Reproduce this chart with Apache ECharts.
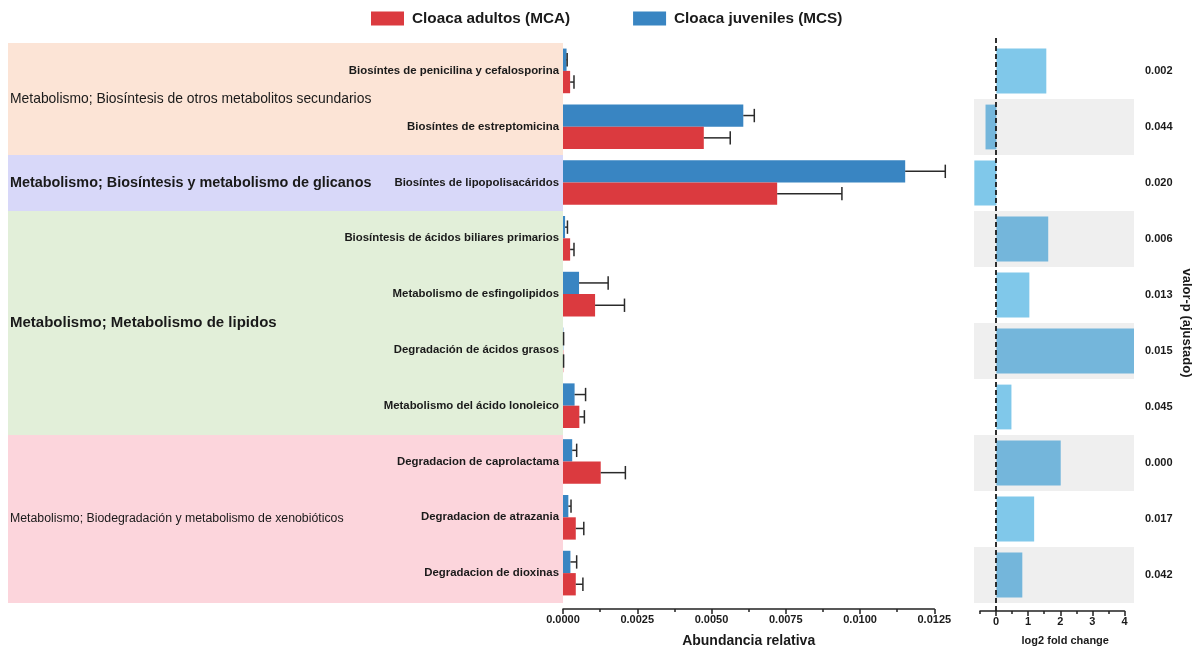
<!DOCTYPE html>
<html>
<head>
<meta charset="utf-8">
<script src="https://cdn.jsdelivr.net/npm/echarts@6/dist/echarts.min.js"></script>
<style>
  html, body { margin: 0; padding: 0; background: #ffffff; }
  #chart { width: 1197px; height: 653px; }
</style>
</head>
<body>
<div id="chart"></div>
<script>
// KEGG pathways (rows, top to bottom)
const categories = [
  'Biosíntes de penicilina y cefalosporina',
  'Biosíntes de estreptomicina',
  'Biosíntes de lipopolisacáridos',
  'Biosíntesis de ácidos biliares primarios',
  'Metabolismo de esfingolipidos',
  'Degradación de ácidos grasos',
  'Metabolismo del ácido lonoleico',
  'Degradacion de caprolactama',
  'Degradacion de atrazania',
  'Degradacion de dioxinas'
];

// Pathway groups and the number of rows each one covers
const groupNames = [
  'Metabolismo; Biosíntesis de otros metabolitos secundarios',
  'Metabolismo; Biosíntesis y metabolismo de glicanos',
  'Metabolismo; Metabolismo de lipidos',
  'Metabolismo; Biodegradación y metabolismo de xenobióticos'
];
const groupRows = [2, 1, 4, 3];

const adultosName = 'Cloaca adultos (MCA)';
const juvenilesName = 'Cloaca juveniles (MCS)';

// Mean relative abundance and error (upper bar)
const adultos =      [0.00024, 0.00474, 0.00721, 0.00024, 0.00108, 0.00001, 0.00055, 0.00127, 0.00043, 0.00043];
const adultosErr =   [0.00013, 0.00089, 0.00218, 0.00013, 0.00099, 0.00001, 0.00017, 0.00083, 0.00027, 0.00024];
const juveniles =    [0.00012, 0.00607, 0.01152, 0.00007, 0.00054, 0.00001, 0.00039, 0.00031, 0.00018, 0.00025];
const juvenilesErr = [0.00002, 0.00037, 0.00135, 0.00008, 0.00098, 0.00001, 0.00037, 0.00015, 0.00009, 0.00021];

// log2 fold change and adjusted p-values
const log2fc = [1.56, -0.34, -0.69, 1.62, 1.03, 4.3, 0.47, 2.01, 1.18, 0.81];
const pValues = ['0.002', '0.044', '0.020', '0.006', '0.013', '0.015', '0.045', '0.000', '0.017', '0.042'];

// ---- styling ----
const RED = '#db3a3f';
const BLUE = '#3985c2';
const FC_LIGHT = '#80c8ea';
const FC_DARK = '#74b6db';
const groupColors = ['#fce4d6', '#d8d8f9', '#e2efd9', '#fcd5dc'];
const SANS = 'Liberation Sans, Arial, sans-serif';
const groupLabelStyles = [
  { fontSize: 13.9, fontWeight: 'normal' },
  { fontSize: 14.4, fontWeight: 'bold' },
  { fontSize: 15, fontWeight: 'bold' },
  { fontSize: 12.3, fontWeight: 'normal' }
];
const TXT = '#1a1a1a';

const BAR_FRACTION = 0.8; // share of a row taken by the bar pair

// group band areas (row units)
let acc = 0;
const groupAreas = groupNames.map((name, i) => {
  const start = acc;
  acc += groupRows[i];
  return [
    {
      name: name,
      yAxis: start,
      itemStyle: { color: groupColors[i] },
      label: Object.assign({ show: true, position: 'insideLeft', distance: 2, color: TXT, fontFamily: SANS }, groupLabelStyles[i])
    },
    { yAxis: acc }
  ];
});

// error bar data: [value, rowIndex, err]
function errData(vals, errs) {
  return vals.map((v, i) => [v, i, errs[i]]);
}

// side: -1 => upper bar of the pair, +1 => lower bar
function errRenderer(side) {
  return function (params, api) {
    const v = api.value(0), idx = api.value(1), e = api.value(2);
    const p0 = api.coord([v, idx]);
    const p1 = api.coord([v + e, idx]);
    const band = api.size([0, 1])[1];
    const bw = band * BAR_FRACTION / 2;
    const yc = p0[1] + side * bw / 2;
    const cap = bw * 0.6;
    const st = { stroke: '#2a2a2a', lineWidth: 1.5 };
    return {
      type: 'group',
      children: [
        { type: 'line', shape: { x1: p0[0], y1: yc, x2: p1[0], y2: yc }, style: st },
        { type: 'line', shape: { x1: p1[0], y1: yc - cap / 2, x2: p1[0], y2: yc + cap / 2 }, style: st }
      ]
    };
  };
}

const chart = echarts.init(document.getElementById('chart'), null, { renderer: 'canvas' });

const option = {
  animation: false,
  backgroundColor: '#ffffff',
  textStyle: { fontFamily: SANS, color: TXT },
  legend: {
    left: 371,
    top: 11,
    padding: 0,
    itemWidth: 33,
    itemHeight: 14,
    itemGap: 63,
    icon: 'rect',
    data: [adultosName, juvenilesName],
    textStyle: { fontSize: 15.3, fontWeight: 'bold', color: TXT, padding: [0, 0, 0, 3] }
  },
  grid: [
    // 0: abundance bars
    { left: 563, top: 43, width: 371.3, height: 560 },
    // 1: group bands on the left
    { left: 8, top: 43, width: 555, height: 560 },
    // 2: log2 fold change bars
    { left: 974, top: 43, width: 160, height: 560 },
    // 3: log2 fold change axis + zero line
    { left: 980, top: 35, width: 144.5, height: 576 }
  ],
  xAxis: [
    {
      gridIndex: 0, type: 'value', min: 0, max: 0.0125, interval: 0.0025, offset: 8,
      axisLine: { show: true, lineStyle: { color: '#222', width: 1.5 } },
      axisTick: { show: true, length: 5, lineStyle: { color: '#222', width: 1.5 } },
      minorTick: { show: true, splitNumber: 2, length: 3, lineStyle: { color: '#222', width: 1.5 } },
      splitLine: { show: false },
      axisLabel: { formatter: v => v.toFixed(4), fontSize: 11, fontWeight: 'bold', color: TXT, margin: 5 },
      name: 'Abundancia relativa', nameLocation: 'middle', nameGap: 25,
      nameTextStyle: { fontSize: 14, fontWeight: 'bold', color: TXT }
    },
    { gridIndex: 1, type: 'value', min: 0, max: 1, show: false },
    { gridIndex: 2, type: 'value', min: -0.7, max: 4.3, show: false },
    {
      gridIndex: 3, type: 'value', min: -0.5, max: 4, position: 'bottom',
      axisLine: { show: true, lineStyle: { color: '#222', width: 1.5 } },
      axisTick: { show: true, length: 5, customValues: [0, 1, 2, 3, 4], lineStyle: { color: '#222', width: 1.5 } },
      splitLine: { show: false },
      axisLabel: { customValues: [0, 1, 2, 3, 4], fontSize: 11, fontWeight: 'bold', color: TXT, margin: 5 },
      name: 'log2 fold change', nameLocation: 'middle', nameGap: 24,
      nameTextStyle: { fontSize: 11, fontWeight: 'bold', color: TXT, padding: [0, 0, 0, 26] }
    },
    {
      gridIndex: 3, type: 'value', min: -0.5, max: 4, position: 'bottom', offset: 0,
      axisLine: { show: false },
      axisTick: { show: true, length: 3, customValues: [-0.5, 0.5, 1.5, 2.5, 3.5], lineStyle: { color: '#222', width: 1.5 } },
      axisLabel: { show: false },
      splitLine: { show: false }
    }
  ],
  yAxis: [
    {
      gridIndex: 0, type: 'category', data: categories, inverse: true, z: 10,
      axisLine: { show: false }, axisTick: { show: false }, splitLine: { show: false },
      axisLabel: { fontSize: 11.4, fontWeight: 'bold', color: TXT, margin: 4 }
    },
    { gridIndex: 1, type: 'value', min: 0, max: 10, inverse: true, show: false },
    {
      gridIndex: 2, type: 'category', data: pValues, inverse: true, position: 'right',
      axisLine: { show: false }, axisTick: { show: false }, splitLine: { show: false },
      splitArea: { show: true, areaStyle: { color: ['rgba(0,0,0,0)', '#efefef'] } },
      axisLabel: { fontSize: 11, fontWeight: 'bold', color: TXT, margin: 11 },
      name: 'valor-p (ajustado)', nameLocation: 'middle', nameRotate: -90, nameGap: 46,
      nameTextStyle: { fontSize: 13, fontWeight: 'bold', color: TXT }
    },
    { gridIndex: 3, type: 'value', min: 0, max: 1, show: false }
  ],
  series: [
    {
      type: 'line', xAxisIndex: 1, yAxisIndex: 1, data: [], silent: true, z: 0,
      markArea: { silent: true, data: groupAreas }
    },
    {
      name: juvenilesName, type: 'bar', xAxisIndex: 0, yAxisIndex: 0, data: juveniles,
      barGap: '0%', barCategoryGap: '20%', itemStyle: { color: BLUE }
    },
    {
      name: adultosName, type: 'bar', xAxisIndex: 0, yAxisIndex: 0, data: adultos,
      barGap: '0%', barCategoryGap: '20%', itemStyle: { color: RED }
    },
    {
      type: 'custom', xAxisIndex: 0, yAxisIndex: 0, data: errData(juveniles, juvenilesErr),
      renderItem: errRenderer(-1), encode: { x: 0, y: 1 }, silent: true, z: 4
    },
    {
      type: 'custom', xAxisIndex: 0, yAxisIndex: 0, data: errData(adultos, adultosErr),
      renderItem: errRenderer(1), encode: { x: 0, y: 1 }, silent: true, z: 4
    },
    {
      type: 'bar', xAxisIndex: 2, yAxisIndex: 2, barCategoryGap: '20%',
      data: log2fc.map((v, i) => ({ value: v, itemStyle: { color: i % 2 ? FC_DARK : FC_LIGHT } }))
    },
    {
      type: 'line', xAxisIndex: 3, yAxisIndex: 3, data: [], silent: true, z: 5,
      markLine: {
        silent: true, symbol: 'none', label: { show: false },
        lineStyle: { color: '#1a1a1a', type: [5, 3], width: 1.8 },
        data: [{ xAxis: 0 }]
      }
    }
  ]
};

chart.setOption(option);
</script>
</body>
</html>
